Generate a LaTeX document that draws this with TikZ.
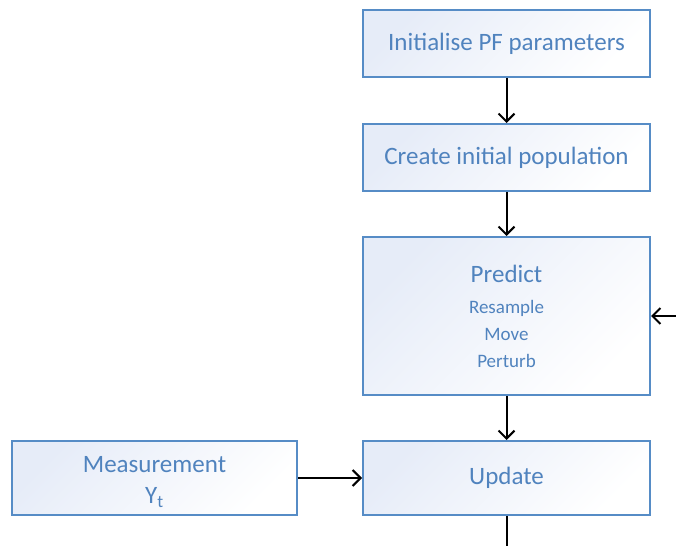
\documentclass[tikz,border=0pt]{standalone}
\usepackage{fontspec}
\setmainfont{Carlito}
\usetikzlibrary{arrows.meta}
\definecolor{boxedge}{RGB}{86,140,198}
\definecolor{boxtext}{RGB}{80,131,190}
\definecolor{boxtint}{RGB}{230,236,248}
\tikzset{
  stagebox/.style={draw=boxedge, line width=2pt, top color=boxtint, bottom color=white,
    shading angle=45, text=boxtext, align=center, inner sep=0pt,
    font=\fontsize{25}{30}\selectfont},
  boxlabel/.style={text=boxtext, align=center, inner sep=0pt, font=\fontsize{25}{30}\selectfont},
  flow/.style={draw=black, line width=2pt, -{Straight Barb[length=8pt,width=16pt,line width=2pt]}},
  plain/.style={draw=black, line width=2pt}
}
\newcommand{\substep}{\fontsize{19}{27}\selectfont}
\begin{document}
\begin{tikzpicture}[x=1pt,y=1pt]
  \useasboundingbox (0,0) rectangle (676,546);
  \node[stagebox, minimum width=287pt, minimum height=67pt] (init) at (506.5,502.5) {Initialise PF parameters};
  \node[stagebox, minimum width=287pt, minimum height=67pt] (pop) at (506.5,388.5) {Create initial population};
  \node[stagebox, minimum width=287pt, minimum height=158pt] (pred) at (506.5,230)
    {Predict\\[1pt]{\substep Resample}\\[-3pt]{\substep Move}\\[-3pt]{\substep Perturb}};
  \node[stagebox, minimum width=287pt, minimum height=74pt] (upd) at (506.5,68) {Update};
  \node[stagebox, minimum width=285pt, minimum height=74pt] (meas) at (154.5,68) {};
  \node[boxlabel, yshift=-4pt] (meastext) at (meas.center) {Measurement\\[1pt]Y\textsubscript{t}};
  \coordinate (loopin) at (676,230);
  \coordinate (down) at (506.5,0);
  \draw[flow] (init) -- (pop);
  \draw[flow] (pop) -- (pred);
  \draw[flow] (pred) -- (upd);
  \draw[flow] (meas) -- (upd);
  \draw[flow] (loopin) -- (pred.east);
  \draw[plain] (upd) -- (down);
\end{tikzpicture}
\end{document}
